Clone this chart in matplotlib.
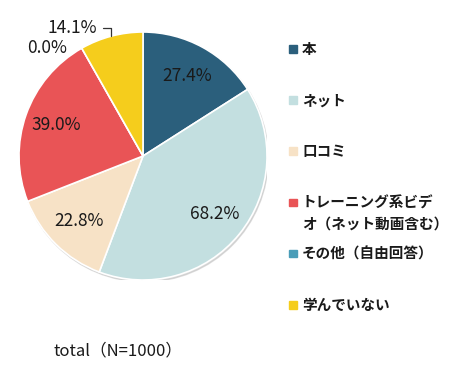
import numpy as np
import matplotlib
matplotlib.use('Agg')
import matplotlib.pyplot as plt
from matplotlib.patches import Circle, Rectangle

plt.rcParams['font.family'] = ['Noto Sans CJK JP', 'DejaVu Sans']

# --------------------------------------------------------------------------------------------
# DATA
labels = ['本', 'ネット', '口コミ', 'トレーニング系ビデ\nオ（ネット動画含む）', 'その他（自由回答）', '学んでいない']
values = [27.4, 68.2, 22.8, 39.0, 0.0, 14.1]
colors = ['#2b5f7c', '#c3dfe0', '#f7e2c6', '#e95456', '#4a9db8', '#f5cd1c']
note = 'total（N=1000）'

W, H = 450, 375

# --------------------------------------------------------------------------------------------
# PIE
fig = plt.figure(figsize=(W / 100, H / 100), dpi=100)
cx, cy, R = 143, 156, 124
ax = fig.add_axes([(cx - R) / W, (H - cy - R) / H, 2 * R / W, 2 * R / H])

# soft shadow under the pie
ax.add_patch(Circle((0.01, -0.015), 1.0, color='#c4c4c4', alpha=0.6, zorder=0))

wedges, _ = ax.pie(values, colors=colors, startangle=90, counterclock=False, radius=1,
                   wedgeprops=dict(edgecolor='white', linewidth=1.2))
ax.set_xlim(-1, 1)
ax.set_ylim(-1, 1)
ax.set_aspect('equal')

for w, v in zip(wedges[:4], values[:4]):
    ang = np.deg2rad((w.theta1 + w.theta2) / 2)
    ax.text(0.74 * np.cos(ang), 0.74 * np.sin(ang), f'{v:.1f}%', ha='center', va='center',
            fontsize=12.5, color='#1a1a1a')

# small slices labelled outside
ax.text(-0.775, 0.87, f'{values[4]:.1f}%', ha='center', va='center', fontsize=12.5, color='#1a1a1a')
w = wedges[5]
ang = np.deg2rad((w.theta1 + w.theta2) / 2)
ax.annotate(f'{values[5]:.1f}%', xy=(np.cos(ang), np.sin(ang)), xytext=(-0.57, 1.035),
            ha='center', va='center', fontsize=12.5, color='#1a1a1a',
            arrowprops=dict(arrowstyle='-', color='#333333', lw=0.9, shrinkA=2, shrinkB=0,
                            connectionstyle='angle,angleA=0,angleB=90,rad=0'))

# --------------------------------------------------------------------------------------------
# LEGEND
for i, (lab, col) in enumerate(zip(labels, colors)):
    y = 49 + 51.2 * i
    fig.add_artist(Rectangle((289 / W, 1 - (y + 3.5) / H), 7.5 / W, 7.5 / H, color=col,
                             transform=fig.transFigure))
    for j, line in enumerate(lab.split('\n')):
        fig.text(302 / W, 1 - (y + 21 * j) / H, line, ha='left', va='center',
                 fontsize=10.5, fontweight='bold', color='#1a1a1a')

fig.text(53 / W, 1 - 351 / H, note, ha='left', va='center', fontsize=12, color='#1a1a1a')

fig.savefig('out.png', dpi=100)
